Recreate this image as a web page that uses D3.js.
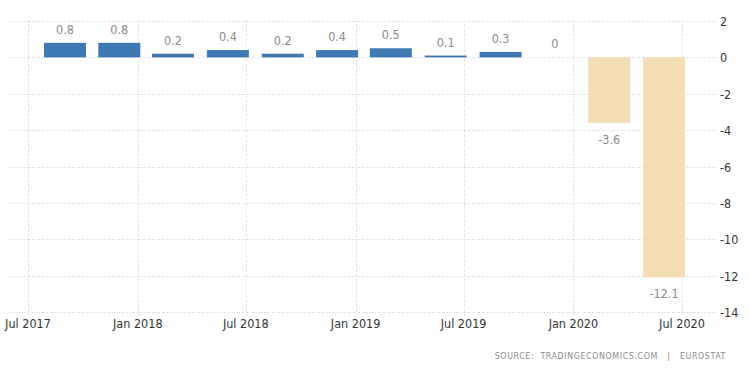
<!DOCTYPE html>
<html>
<head>
<meta charset="utf-8">
<script src="https://cdn.jsdelivr.net/npm/d3@7"></script>
<style>
  html, body { margin: 0; padding: 0; background: #fff; }
  svg { display: block; font-family: "DejaVu Sans Condensed", "DejaVu Sans", sans-serif; }
  .grid line { stroke: #d4d4d4; stroke-dasharray: 1 1.5; shape-rendering: crispEdges; }
  .val { fill: #8a8a8a; font-size: 12.5px; text-anchor: middle; }
  .tick-x { fill: #333; font-size: 12.5px; text-anchor: middle; }
  .tick-y { fill: #333; font-size: 12.5px; text-anchor: start; }
  .source { fill: #8a8a8a; font-size: 8.8px; letter-spacing: 0.6px; text-anchor: end; white-space: pre; }
</style>
</head>
<body>
<div id="chart"></div>
<script>
// --- data --------------------------------------------------------------------
// quarterly GDP growth, Q3 2017 .. Q2 2020 (placed at the 3rd month of quarter)
const quarters = ['2017-09-01', '2017-12-01', '2018-03-01', '2018-06-01',
                  '2018-09-01', '2018-12-01', '2019-03-01', '2019-06-01',
                  '2019-09-01', '2019-12-01', '2020-03-01', '2020-06-01'];
const values = [0.8, 0.8, 0.2, 0.4, 0.2, 0.4, 0.5, 0.1, 0.3, 0, -3.6, -12.1];
const xTickDates = ['2017-07-01', '2018-01-01', '2018-07-01', '2019-01-01',
                    '2019-07-01', '2020-01-01', '2020-07-01'];
const yTicks = [2, 0, -2, -4, -6, -8, -10, -12, -14];

const W = 750, H = 373;
const parse = d3.timeParse('%Y-%m-%d');
const fmt = d3.timeFormat('%b %Y');

const x = d3.scaleTime()
  .domain([parse('2017-07-01'), parse('2020-07-01')])
  .range([28, 682]);
const y = d3.scaleLinear().domain([2, -14]).range([21, 312]);

const BAR_W = 42;
const GRID_L = 9, GRID_R = 717;

const svg = d3.select('#chart').append('svg')
  .attr('width', W).attr('height', H);

// --- grid --------------------------------------------------------------------
const grid = svg.append('g').attr('class', 'grid');
grid.selectAll('line.h')
  .data(yTicks)
  .join('line')
    .attr('class', 'h')
    .attr('x1', GRID_L).attr('x2', GRID_R)
    .attr('y1', d => Math.round(y(d)) + 0.5).attr('y2', d => Math.round(y(d)) + 0.5);
grid.selectAll('line.v')
  .data(xTickDates)
  .join('line')
    .attr('class', 'v')
    .attr('x1', d => Math.round(x(parse(d))) + 0.5).attr('x2', d => Math.round(x(parse(d))) + 0.5)
    .attr('y1', y(2)).attr('y2', y(-14) + 4);

// --- bars --------------------------------------------------------------------
const rows = quarters.map((q, i) => ({ date: parse(q), v: values[i] }));

svg.append('g').selectAll('rect')
  .data(rows.filter(d => d.v !== 0))
  .join('rect')
    .attr('x', d => x(d.date) - BAR_W / 2)
    .attr('width', BAR_W)
    .attr('y', d => y(Math.max(0, d.v)))
    .attr('height', d => Math.abs(y(d.v) - y(0)))
    .attr('fill', d => d.v < 0 ? '#f3ddb4' : '#3f79b3');

svg.append('g').selectAll('text')
  .data(rows)
  .join('text')
    .attr('class', 'val')
    .attr('x', d => x(d.date))
    .attr('y', d => d.v < 0 ? y(d.v) + 21 : y(d.v) - 9)
    .text(d => d.v);

// --- axes --------------------------------------------------------------------
svg.append('g').selectAll('text')
  .data(xTickDates)
  .join('text')
    .attr('class', 'tick-x')
    .attr('x', d => x(parse(d)))
    .attr('y', 328)
    .text(d => fmt(parse(d)));

svg.append('g').selectAll('text')
  .data(yTicks)
  .join('text')
    .attr('class', 'tick-y')
    .attr('x', 720)
    .attr('y', d => y(d) + 5)
    .text(d => d);

svg.append('text')
  .attr('class', 'source')
  .attr('x', 726).attr('y', 359)
  .text('SOURCE:  TRADINGECONOMICS.COM   |   EUROSTAT');
</script>
</body>
</html>
